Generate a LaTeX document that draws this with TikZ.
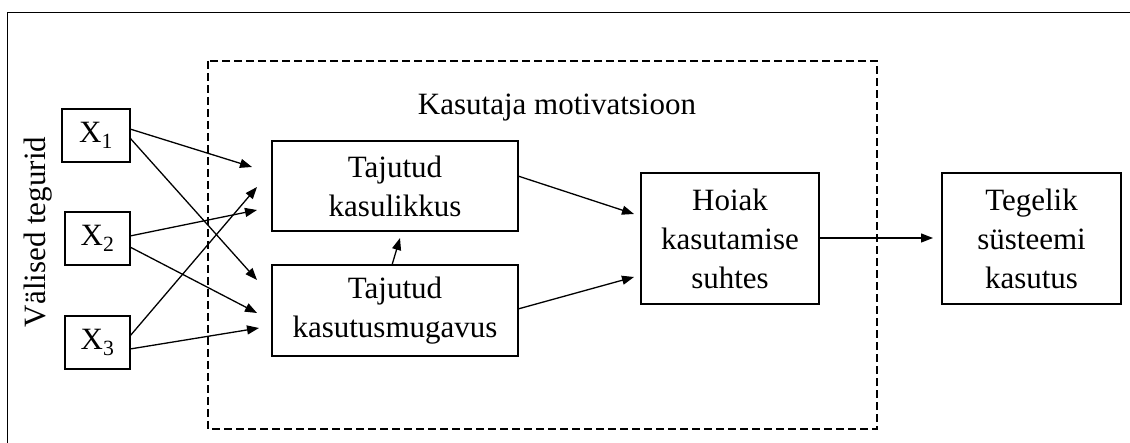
\documentclass[tikz,border=0pt]{standalone}
\usepackage{fontspec}
\setmainfont{Liberation Serif}
\usetikzlibrary{arrows.meta}
\begin{document}
\begin{tikzpicture}[x=1pt,y=-1pt,
  box/.style={draw,line width=1.5pt,inner sep=0pt,align=center,font=\fontsize{31}{39}\selectfont},
  arr/.style={line width=1.3pt,-{Triangle[length=12pt,width=9pt]}},
  lbl/.style={font=\fontsize{31}{39}\selectfont,inner sep=0pt}]
\useasboundingbox (0,0) rectangle (1130,443);
% outer frame
\draw[line width=1pt] (7,443) -- (7,13) -- (1130,13);
% dashed group
\draw[line width=1.3pt,dash pattern=on 8pt off 4pt] (208,61) rectangle (877,429);
\node[lbl,anchor=base] (mot) at (557,115) {Kasutaja motivatsioon};
\node[lbl,rotate=90] (val) at (38,232) {Välised tegurid};
% boxes
\node[box,minimum width=68pt,minimum height=53pt] (X1) at (96,135.5) {X\textsubscript{1}};
\node[box,minimum width=65pt,minimum height=53pt] (X2) at (97.5,238.5) {X\textsubscript{2}};
\node[box,minimum width=65pt,minimum height=53pt] (X3) at (97.5,342.5) {X\textsubscript{3}};
\node[box,minimum width=246pt,minimum height=90pt] (K) at (395,186) {Tajutud\\kasulikkus};
\node[box,minimum width=246pt,minimum height=91pt] (M) at (395,310.5) {Tajutud\\kasutusmugavus};
\node[box,minimum width=178pt,minimum height=131pt] (H) at (730,238.5) {Hoiak\\kasutamise\\suhtes};
\node[box,minimum width=179pt,minimum height=131pt] (T) at (1031.5,238.5) {Tegelik\\süsteemi\\kasutus};
% connector end points
\coordinate (x1a) at (130,129);
\coordinate (x1b) at (130,138);
\coordinate (x2a) at (130,236);
\coordinate (x2b) at (130,247);
\coordinate (x3a) at (130,336);
\coordinate (x3b) at (130,349);
\coordinate (t1) at (252,167);
\coordinate (t2) at (257,280);
\coordinate (t3) at (257,210);
\coordinate (t4) at (257,313);
\coordinate (t5) at (257,187);
\coordinate (t6) at (259,328);
\coordinate (ka) at (518,176);
\coordinate (ma) at (518,309);
\coordinate (hk) at (634,214);
\coordinate (hm) at (634,277);
\coordinate (mu) at (392,265);
\coordinate (ku) at (400,238);
\coordinate (he) at (819,238);
\coordinate (te) at (933,238);
\draw[arr] (x1a) -- (t1);
\draw[arr] (x1b) -- (t2);
\draw[arr] (x2a) -- (t3);
\draw[arr] (x2b) -- (t4);
\draw[arr] (x3a) -- (t5);
\draw[arr] (x3b) -- (t6);
\draw[arr] (ka) -- (hk);
\draw[arr] (ma) -- (hm);
\draw[arr] (mu) -- (ku);
\draw[arr] (he) -- (te);
\end{tikzpicture}
\end{document}
